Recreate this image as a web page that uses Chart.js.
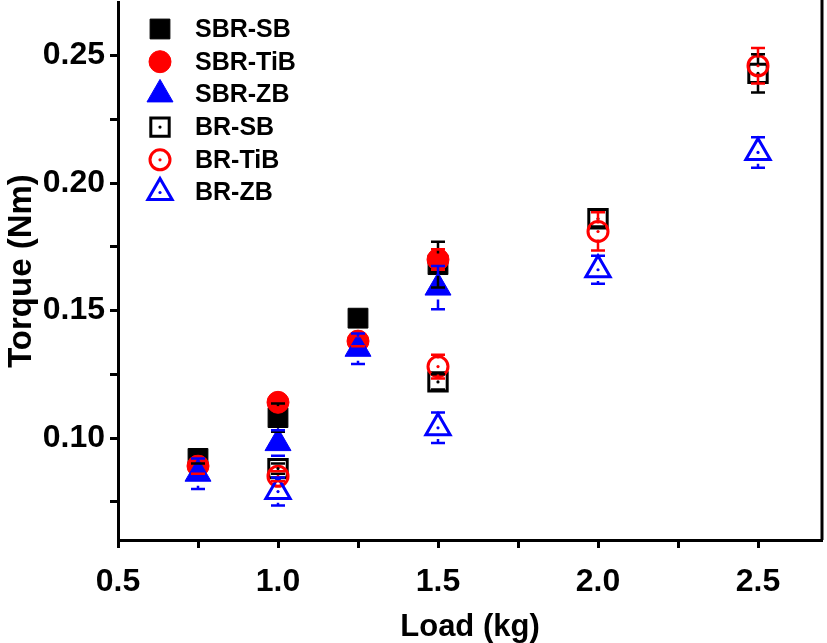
<!DOCTYPE html>
<html>
<head>
<meta charset="utf-8">
<script src="https://cdn.jsdelivr.net/npm/chart.js@4.4.1/dist/chart.umd.min.js"></script>
<style>
  html, body { margin: 0; padding: 0; background: #fff; }
  #wrap { width: 827px; height: 643px; }
</style>
</head>
<body>
<div id="wrap"><canvas id="graph_torque"></canvas></div>
<script>
// load (kg) for each group of samples
var load_sbr = [0.75, 1.0, 1.25, 1.5]
var load_br = [1.0, 1.5, 2.0, 2.5]

// torque (Nm)
var sbr_sb = [0.092, 0.108, 0.147, 0.168]
var sbr_tib = [0.089, 0.114, 0.138, 0.170]
var sbr_zb = [0.086, 0.098, 0.135, 0.159]
var br_sb = [0.088, 0.122, 0.186, 0.243]
var br_tib = [0.085, 0.128, 0.181, 0.246]
var br_zb = [0.079, 0.104, 0.166, 0.212]

// error bars (+/-)
var sbr_sb_err = [0.002, 0.0055, 0.002, 0.009]
var sbr_tib_err = [0.003, 0.002, 0.002, 0.004]
var sbr_zb_err = [0.006, 0.005, 0.006, 0.0085]
var br_sb_err = [0.002, 0.003, 0.003, 0.0075]
var br_tib_err = [0.002, 0.0047, 0.0075, 0.007]
var br_zb_err = [0.0055, 0.006, 0.0055, 0.006]

var names = ["SBR-SB", "SBR-TiB", "SBR-ZB", "BR-SB", "BR-TiB", "BR-ZB"]
var x_labels = [0.5, 1.0, 1.5, 2.0, 2.5]
var y_labels = [0.10, 0.15, 0.20, 0.25]

var FONT = "'Liberation Sans', Arial, sans-serif"

function pts(xs, ys){
    return xs.map(function(x, i){ return {x: x, y: ys[i]} })
}

function serie(i, xs, ys, err, color, style, radius, hollow, order){
    return {
        label: names[i],
        data: pts(xs, ys),
        err: err,
        hollow: hollow,
        order: order,
        showLine: false,
        pointStyle: style,
        pointRadius: radius,
        pointHoverRadius: radius,
        pointBorderWidth: hollow ? 3 : 1,
        borderColor: color,
        backgroundColor: hollow ? 'rgba(255,255,255,0)' : color,
        pointBackgroundColor: hollow ? 'rgba(255,255,255,0)' : color,
        pointBorderColor: color
    }
}

// error bars, center dots on hollow markers, right edge and legend
var extras = {
    id: 'extras',
    afterDatasetsDraw: function(chart){
        var ctx = chart.ctx
        var ys = chart.scales.y
        ctx.save()
        chart.data.datasets.forEach(function(ds, i){
            var meta = chart.getDatasetMeta(i)
            meta.data.forEach(function(p, j){
                var v = ds.data[j].y
                var e = ds.err[j]
                var top = ys.getPixelForValue(v + e)
                var bot = ys.getPixelForValue(v - e)
                var half = ds.pointRadius * 0.8
                ctx.strokeStyle = ds.borderColor
                ctx.lineWidth = 2.5
                ctx.beginPath()
                if (p.y - top > half) { ctx.moveTo(p.x, top); ctx.lineTo(p.x, p.y - half) }
                if (bot - p.y > half) { ctx.moveTo(p.x, bot); ctx.lineTo(p.x, p.y + half) }
                ctx.moveTo(p.x - 7, top); ctx.lineTo(p.x + 7, top)
                ctx.moveTo(p.x - 7, bot); ctx.lineTo(p.x + 7, bot)
                ctx.stroke()
                if (ds.hollow) {
                    ctx.fillStyle = ds.borderColor
                    ctx.beginPath()
                    ctx.arc(p.x, p.y, 1.6, 0, Math.PI * 2)
                    ctx.fill()
                }
            })
        })
        var a = chart.chartArea
        ctx.strokeStyle = '#000'
        ctx.lineWidth = 3
        ctx.beginPath()
        ctx.moveTo(a.right, a.top - 2)
        ctx.lineTo(a.right, a.bottom)
        ctx.stroke()

        // legend
        chart.data.datasets.forEach(function(ds, i){
            var lx = a.left + 42
            var ly = a.top + 27 + i * 32.7
            ctx.fillStyle = ds.pointBackgroundColor
            ctx.strokeStyle = ds.borderColor
            ctx.lineWidth = ds.pointBorderWidth
            Chart.helpers.drawPoint(ctx, {pointStyle: ds.pointStyle, radius: ds.pointRadius, borderWidth: ds.pointBorderWidth, rotation: 0}, lx, ly)
            if (ds.hollow) {
                ctx.fillStyle = ds.borderColor
                ctx.beginPath()
                ctx.arc(lx, ly, 1.6, 0, Math.PI * 2)
                ctx.fill()
            }
            ctx.fillStyle = '#000'
            ctx.font = "bold 25px " + FONT
            ctx.textAlign = 'left'
            ctx.textBaseline = 'middle'
            ctx.fillText(ds.label, a.left + 77, ly + 1)
        })
        ctx.restore()
    }
}

function isLabel(v, list){
    return list.some(function(t){ return Math.abs(t - v) < 1e-6 })
}

function crearGrafico(){
    var g = document.getElementById("graph_torque").getContext('2d')
    new Chart(g, {
        type: 'scatter',
        data: {
            datasets: [
                serie(0, load_sbr, sbr_sb, sbr_sb_err, '#000000', 'rect', 14, false, 6),
                serie(1, load_sbr, sbr_tib, sbr_tib_err, '#ff0000', 'circle', 11, false, 5),
                serie(2, load_sbr, sbr_zb, sbr_zb_err, '#0000ff', 'triangle', 15, false, 4),
                serie(3, load_br, br_sb, br_sb_err, '#000000', 'rect', 13, true, 3),
                serie(4, load_br, br_tib, br_tib_err, '#ff0000', 'circle', 10, true, 2),
                serie(5, load_br, br_zb, br_zb_err, '#0000ff', 'triangle', 14, true, 1)
            ]
        },
        options: {
            responsive: true,
            maintainAspectRatio: false,
            animation: false,
            layout: { autoPadding: false, padding: { top: 2, right: 5, left: 0, bottom: 0 } },
            plugins: {
                legend: { display: false },
                tooltip: { enabled: false }
            },
            scales: {
                x: {
                    type: 'linear',
                    min: 0.5,
                    max: 2.7,
                    afterFit: function(axis){
                        axis.height = 103
                        axis.paddingLeft = 0
                        axis.paddingRight = 0
                    },
                    border: { display: true, color: '#000', width: 3 },
                    grid: { drawOnChartArea: false, drawTicks: true, tickLength: 8, tickWidth: 3, color: '#000' },
                    ticks: {
                        stepSize: 0.25,
                        includeBounds: false,
                        autoSkip: false,
                        maxRotation: 0,
                        padding: 15,
                        color: '#000',
                        font: { family: FONT, size: 32, weight: 'bold' },
                        callback: function(v){ return isLabel(v, x_labels) ? v.toFixed(1) : '' }
                    },
                    title: {
                        display: true,
                        text: 'Load (kg)',
                        color: '#000',
                        padding: { top: 0, bottom: -3 },
                        font: { family: FONT, size: 31, weight: 'bold' }
                    }
                },
                y: {
                    type: 'linear',
                    min: 0.06,
                    max: 0.271,
                    afterFit: function(axis){
                        axis.width = 118
                        axis.paddingTop = 0
                        axis.paddingBottom = 0
                    },
                    border: { display: true, color: '#000', width: 3 },
                    grid: { drawOnChartArea: false, drawTicks: true, tickLength: 8, tickWidth: 3, color: '#000' },
                    ticks: {
                        stepSize: 0.025,
                        includeBounds: false,
                        autoSkip: false,
                        padding: 5,
                        color: '#000',
                        font: { family: FONT, size: 32, weight: 'bold' },
                        callback: function(v){ return isLabel(v, y_labels) ? v.toFixed(2) : '' }
                    },
                    title: {
                        display: true,
                        text: 'Torque (Nm)',
                        color: '#000',
                        padding: { top: 2, bottom: 0 },
                        font: { family: FONT, size: 33, weight: 'bold' }
                    }
                }
            }
        },
        plugins: [extras]
    })
}
document.addEventListener('DOMContentLoaded', crearGrafico)
</script>
</body>
</html>
